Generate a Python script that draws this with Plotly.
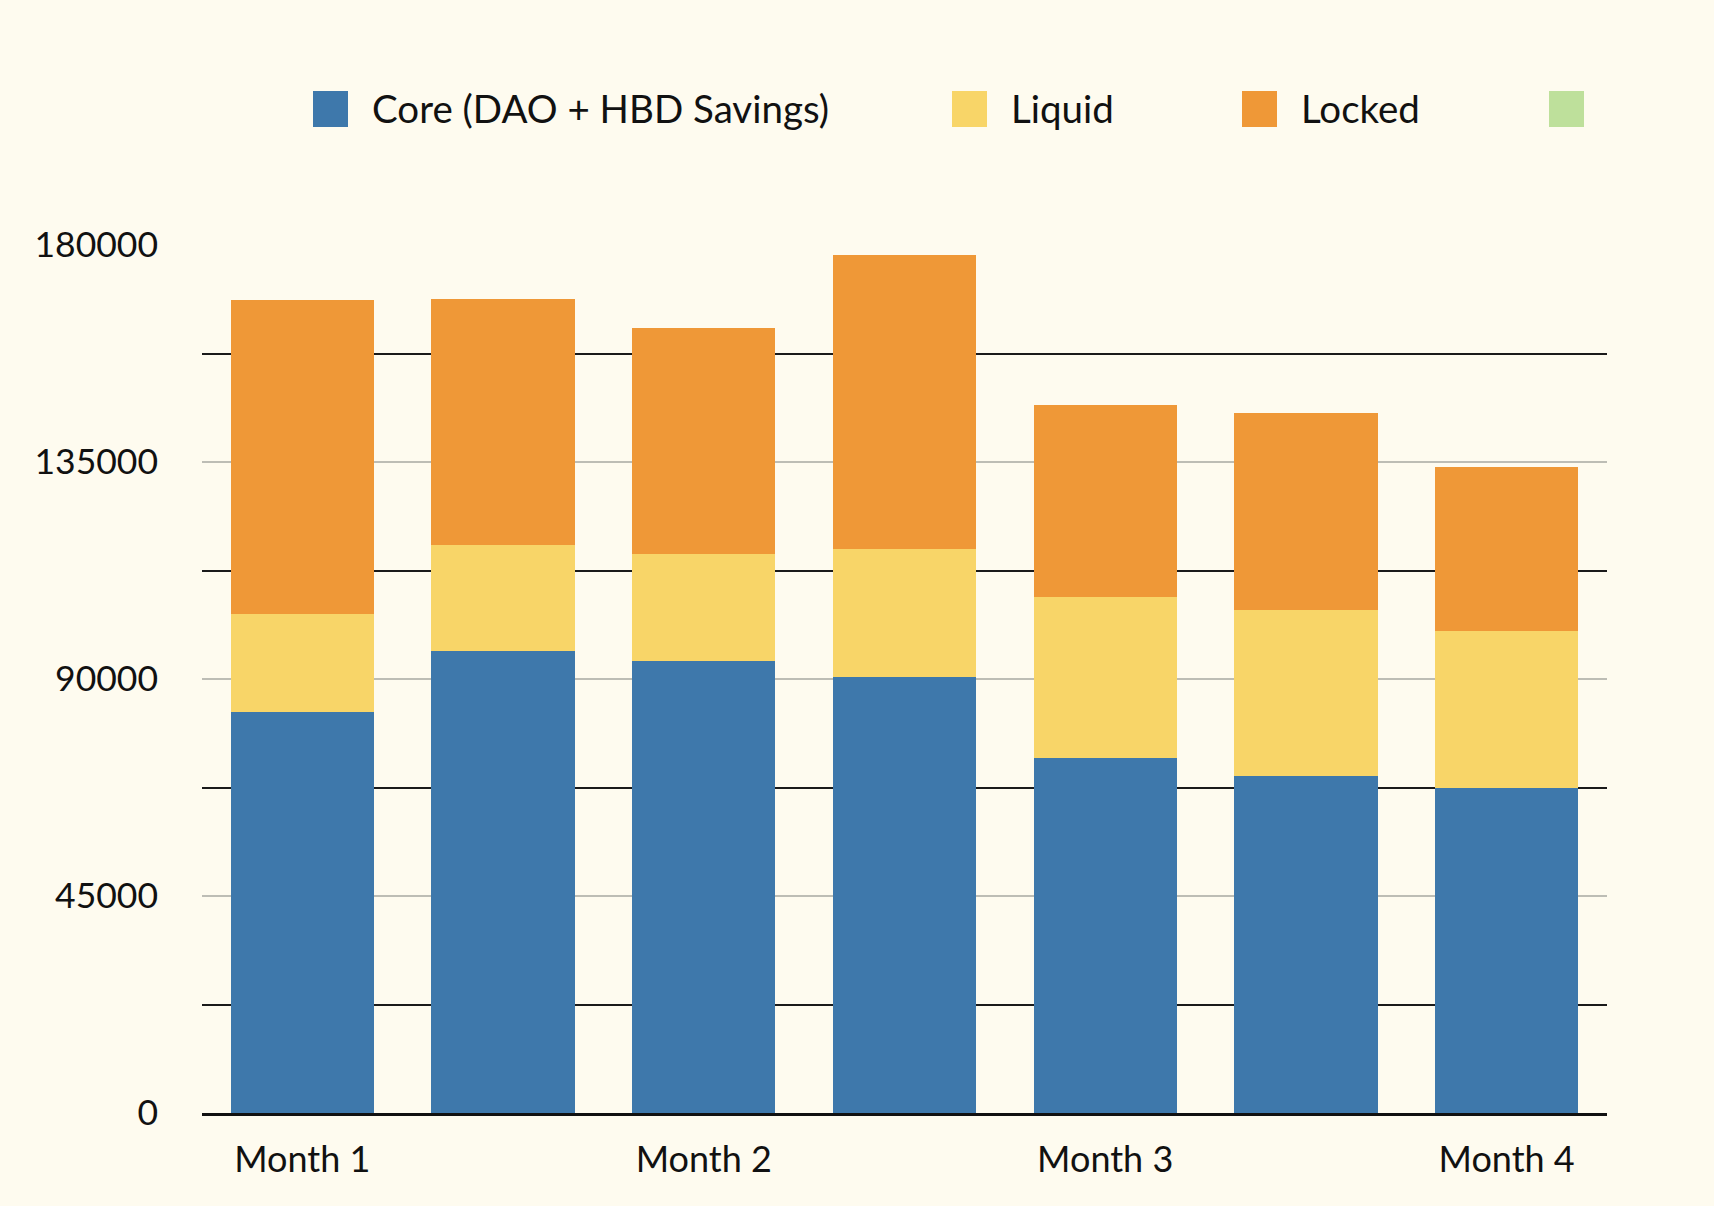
import plotly.graph_objects as go

# ---- data ----
periods = ["Month 1", "", "Month 2", "", "Month 3", "", "Month 4"]
tick_labels = ["Month 1", "Month 2", "Month 3", "Month 4"]
tick_positions = [0, 2, 4, 6]
core = [83200, 95800, 93700, 90400, 73600, 69900, 67400]
liquid = [20300, 22000, 22200, 26500, 33400, 34400, 32600]
locked = [65100, 51000, 46900, 61000, 39800, 40900, 34000]
series_names = ["Core (DAO + HBD Savings)", "Liquid", "Locked", ""]
series_colors = ["#3E78AB", "#F8D568", "#EF9837", "#BEE09B"]
y_ticks = [0, 45000, 90000, 135000, 180000]

BG = "#FEFBEF"
FONT = "Lato"

W, H = 1714, 1206
L, R, T, B = 202, 107, 245, 93
PW, PH = W - L - R, H - T - B

x_idx = list(range(len(periods)))
fig = go.Figure()
for name, vals, col in zip(series_names[:3], [core, liquid, locked], series_colors[:3]):
    fig.add_trace(go.Bar(x=x_idx, y=vals, name=name, marker=dict(color=col, line=dict(width=0)),
                         showlegend=False))

fig.update_layout(
    width=W, height=H,
    margin=dict(l=L, r=R, t=T, b=B, autoexpand=False),
    paper_bgcolor=BG, plot_bgcolor=BG,
    barmode="stack", bargap=0.286,
    font=dict(family=FONT, size=35, color="#111111"),
    showlegend=False,
)
fig.update_xaxes(
    range=[-0.5, 6.5], tickvals=tick_positions, ticktext=tick_labels,
    tickfont=dict(size=36),
    showgrid=False, showline=True, linecolor="#111111", linewidth=3,
    ticks="", ticklabelstandoff=13, zeroline=False,
)
fig.update_yaxes(
    range=[0, 180000], tickvals=y_ticks, ticktext=[str(v) for v in y_ticks],
    tickfont=dict(size=35.5),
    showgrid=True, gridcolor="#BDBDB5", gridwidth=2,
    minor=dict(dtick=22500, showgrid=True, gridcolor="#1A1A1A", gridwidth=2, ticks=""),
    ticks="", ticklabelstandoff=43, zeroline=False, showline=False,
)

# manual legend with large square swatches
sw_left = [313, 952, 1242, 1549]
sw_size = 35
sw_top, sw_bot = 91, 127
for name, col, xl in zip(series_names, series_colors, sw_left):
    x0 = (xl - L) / PW
    x1 = (xl + sw_size - L) / PW
    y0 = (H - B - sw_bot) / PH
    y1 = (H - B - sw_top) / PH
    fig.add_shape(type="rect", xref="paper", yref="paper", x0=x0, x1=x1, y0=y0, y1=y1,
                  fillcolor=col, line=dict(width=0))
    if name:
        fig.add_annotation(xref="paper", yref="paper", x=(xl + sw_size + 22 - L) / PW,
                           y=(H - B - (sw_top + sw_bot) / 2 + 1) / PH,
                           text=name, showarrow=False, xanchor="left", yanchor="middle",
                           font=dict(family=FONT, size=38.5, color="#111111"))

fig.write_html("out.html")
